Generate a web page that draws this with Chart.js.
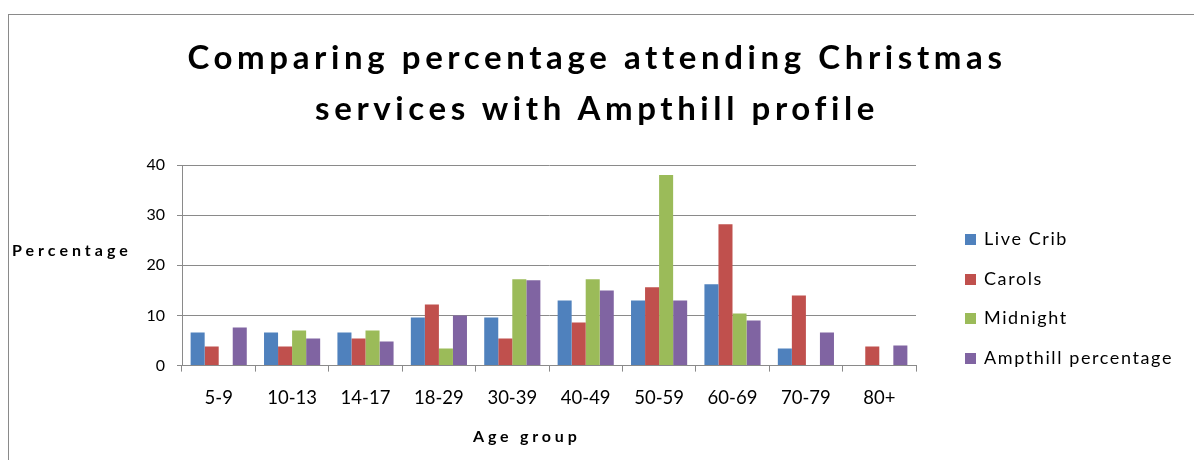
<!DOCTYPE html>
<html>
<head>
<meta charset="utf-8">
<script src="https://cdn.jsdelivr.net/npm/chart.js@4"></script>
<style>
  body { margin: 0; background: #fff; }
  #wrap { position: relative; width: 1194px; height: 460px; overflow: hidden; font-family: Lato, "Open Sans", sans-serif; }
  #chart { position: absolute; left: 0; top: 0; }
  .frame { position: absolute; left: 8px; top: 14px; width: 1300px; height: 600px; border-left: 1px solid #8a8a8a; border-top: 1px solid #8a8a8a; }
  #title { position: absolute; left: 0; width: 1194px; top: 31px; text-align: center; font-weight: bold; font-size: 33px; line-height: 51px; letter-spacing: 4.6px; color: #000; }
  #yTitle { position: absolute; left: 12px; top: 240px; font-weight: bold; font-size: 16px; letter-spacing: 4px; color: #000; }
  #xTitle { position: absolute; left: 473px; top: 426px; font-weight: bold; font-size: 16px; letter-spacing: 3.8px; color: #000; }
  #legend { position: absolute; left: 965px; top: 227px; font-size: 18px; color: #000; }
  #legend span { display: block; height: 39.7px; line-height: 23px; letter-spacing: 1.6px; }
  #legend i { display: inline-block; width: 11px; height: 11px; margin-right: 8px; }
</style>
</head>
<body>
<div id="wrap">
  <div class="frame"></div>
  <canvas id="chart" width="1194" height="460"></canvas>
  <div id="title">Comparing percentage attending Christmas<br>services with Ampthill profile</div>
  <div id="yTitle">Percentage</div>
  <div id="xTitle">Age group</div>
  <div id="legend"></div>
</div>
<script>
const ageGroups = ['5-9', '10-13', '14-17', '18-29', '30-39', '40-49', '50-59', '60-69', '70-79', '80+'];
const liveCrib = [6.6, 6.6, 6.6, 9.6, 9.6, 13.0, 13.0, 16.2, 3.4, 0];
const carols = [3.8, 3.8, 5.4, 12.2, 5.4, 8.6, 15.6, 28.2, 14.0, 3.8];
const midnight = [0, 7.0, 7.0, 3.4, 17.2, 17.2, 38.0, 10.4, 0, 0];
const ampthill = [7.6, 5.4, 4.8, 10.0, 17.0, 15.0, 13.0, 9.0, 6.6, 4.0];

const seriesLabels = ['Live Crib', 'Carols', 'Midnight', 'Ampthill percentage'];
const seriesColors = ['#4F81BD', '#C0504D', '#9BBB59', '#8064A2'];
const seriesData = [liveCrib, carols, midnight, ampthill];

const ctx = document.getElementById('chart').getContext('2d');
const chart = new Chart(ctx, {
  type: 'bar',
  data: {
    labels: ageGroups,
    datasets: seriesLabels.map((label, i) => ({
      label: label,
      data: seriesData[i],
      backgroundColor: seriesColors[i],
      categoryPercentage: 0.765,
      barPercentage: 1.0
    }))
  },
  options: {
    responsive: false,
    animation: false,
    layout: { padding: { left: 142, right: 278, top: 165, bottom: 35.4 } },
    plugins: {
      legend: { display: false },
      title: { display: false },
      tooltip: { enabled: false }
    },
    scales: {
      x: {
        grid: { display: true, drawOnChartArea: false, drawTicks: true, tickLength: 6, color: '#8a8a8a', offset: true },
        border: { color: '#8a8a8a' },
        ticks: { font: { family: 'Lato', size: 18.5 }, color: '#000', padding: 15.4 }
      },
      y: {
        min: 0,
        max: 40,
        ticks: { stepSize: 10, font: { family: 'Lato', size: 16 }, color: '#000', padding: 12 },
        grid: { color: '#8a8a8a', tickLength: 5 },
        border: { color: '#8a8a8a' },
        afterFit: (scale) => { scale.width = 40; }
      }
    }
  }
});

// legend built from the datasets
const legend = document.getElementById('legend');
chart.data.datasets.forEach(ds => {
  const item = document.createElement('span');
  item.innerHTML = `<i style="background:${ds.backgroundColor}"></i>${ds.label}`;
  legend.appendChild(item);
});
</script>
</body>
</html>
